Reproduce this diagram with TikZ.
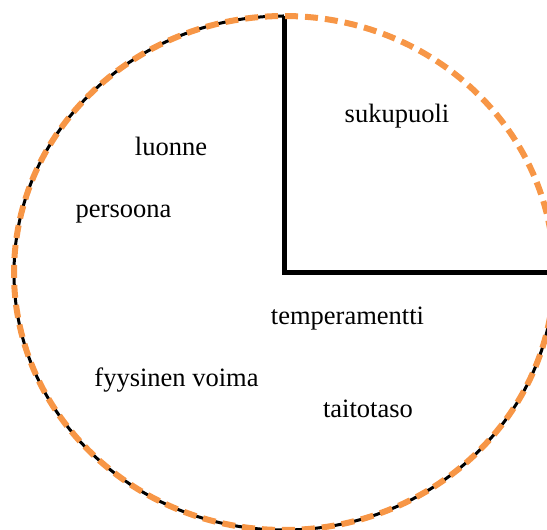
\documentclass[tikz,border=0pt]{standalone}
\usepackage{fontspec}
\setmainfont{Liberation Serif}
\definecolor{orng}{HTML}{F79646}
\begin{document}
\begin{tikzpicture}[x=1pt,y=1pt,
  lbl/.style={anchor=base,inner sep=0pt,font=\fontsize{26.5}{30}\selectfont},
  rim/.style={draw=orng,line width=6pt,dash pattern=on 13pt off 7pt},
  blk/.style={draw=black,line width=3pt},
  rad/.style={draw=black,line width=5pt}]
\useasboundingbox (0,0) rectangle (547,530);
\coordinate (c) at (284,257);
\coordinate (top) at (284,514);
\coordinate (right) at (554,257);
% black three-quarter rim
\draw[blk] (top) arc[start angle=90,end angle=360,x radius=270,y radius=257];
% radial lines
\draw[rad] (top) -- (c) -- (right);
% orange dashed rim
\draw[rim] (c) ellipse[x radius=270,y radius=257];
% labels
\node[lbl] (suku) at (397,407) {sukupuoli};
\node[lbl] (luon) at (171,374) {luonne};
\node[lbl] (pers) at (123.5,312) {persoona};
\node[lbl] (temp) at (347.5,205) {temperamentti};
\node[lbl] (fyys) at (176.5,143) {fyysinen voima};
\node[lbl] (tait) at (368,112) {taitotaso};
\end{tikzpicture}
\end{document}
